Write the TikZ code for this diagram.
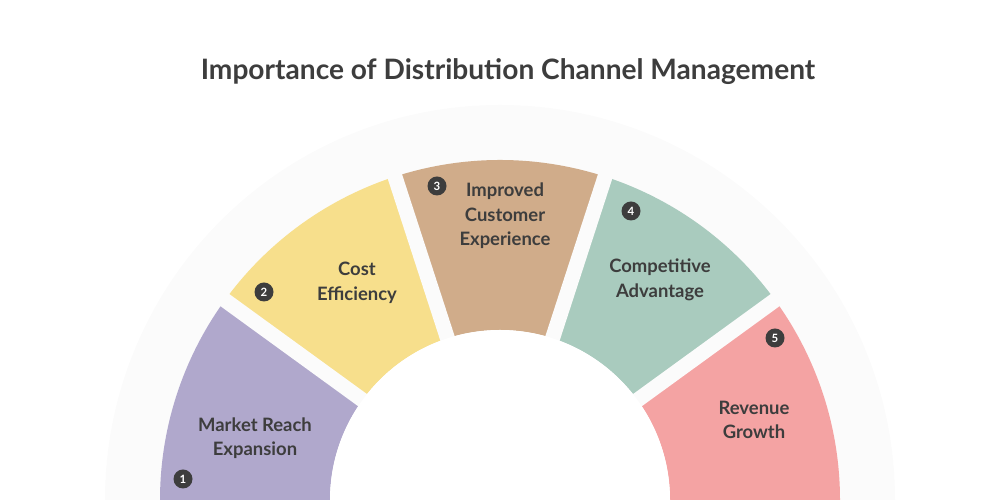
\documentclass[tikz,border=0pt]{standalone}
\usepackage{fontspec}
\setmainfont{Lato}
\usetikzlibrary{calc}
\definecolor{bgc}{HTML}{FBFBFB}
\definecolor{txt}{HTML}{3D3D3D}
\definecolor{segA}{HTML}{B0A8CC}
\definecolor{segB}{HTML}{F7DF8C}
\definecolor{segC}{HTML}{D0AC8A}
\definecolor{segD}{HTML}{A9CBBE}
\definecolor{segE}{HTML}{F4A3A3}
\tikzset{
  lbl/.style={text=txt, font=\fontsize{10.5}{14}\selectfont\bfseries, align=center},
  badge/.style={circle, fill=txt, text=white, inner sep=0pt, minimum size=0.38cm, font=\fontsize{6.5}{7}\selectfont\bfseries}
}
\begin{document}
\begin{tikzpicture}
      \useasboundingbox (0, 0) rectangle (20, 10);
      \clip (0, 0) rectangle (20, 10);
      \fill [bgc] (10, 0) circle (7.9);

      % segments
      \foreach \a/\c in {144/segA, 108/segB, 72/segC, 36/segD, 0/segE}
        \fill [\c] ($(10, 0) + (\a:3.4)$) arc (\a:\a+36:3.4) -- ($(10, 0) + (\a+36:6.8)$) arc (\a+36:\a:6.8) -- cycle;
      \foreach \a in {36, 72, 108, 144}
        \draw [bgc, line width=0.3cm] ($(10, 0) + (\a:3.3)$) -- ($(10, 0) + (\a:6.9)$);
      \fill [white] (10, 0) circle (3.4);

      \draw (10.16, 8.56) node [text=txt, font=\fontsize{16}{18}\selectfont\bfseries] (title) {Importance of Distribution Channel Management};

      \draw (5.1, 1.24) node [lbl] (t1) {Market Reach\\Expansion};
      \draw (7.14, 4.34) node [lbl] (t2) {Cost\\Efficiency};
      \draw (10.1, 5.68) node [lbl] (t3) {Improved\\Customer\\Experience};
      \draw (13.2, 4.4) node [lbl] (t4) {Competitive\\Advantage};
      \draw (15.08, 1.6) node [lbl] (t5) {Revenue\\Growth};

      \draw (3.66, 0.42) node [badge] (b1) {1};
      \draw (5.28, 4.16) node [badge] (b2) {2};
      \draw (8.74, 6.28) node [badge] (b3) {3};
      \draw (12.62, 5.78) node [badge] (b4) {4};
      \draw (15.5, 3.24) node [badge] (b5) {5};
    \end{tikzpicture}
\end{document}
